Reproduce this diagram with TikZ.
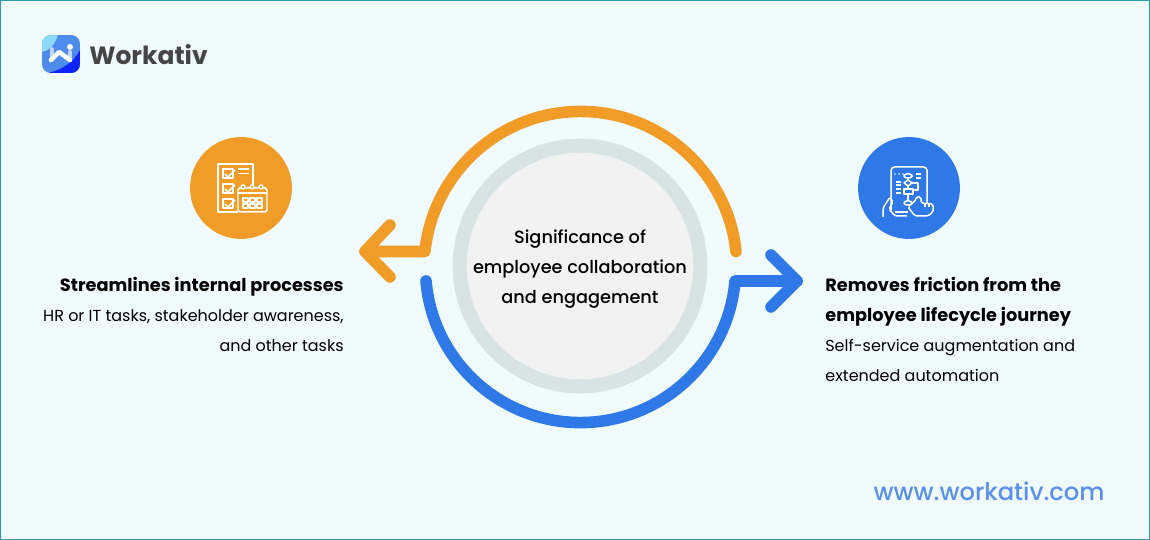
\documentclass[tikz,border=0pt]{standalone}
\usepackage{fontspec}
\setmainfont{Poppins}
\newfontfamily\medfont{Poppins Medium}
\usetikzlibrary{positioning}
\definecolor{pagebg}{HTML}{F0FBFF}
\definecolor{pageline}{HTML}{2A9DB5}
\definecolor{orangec}{HTML}{F09C26}
\definecolor{bluec}{HTML}{2F78E8}
\definecolor{ringc}{HTML}{D8E3E3}
\definecolor{corec}{HTML}{F2F2F2}
\definecolor{urlc}{HTML}{5A8FEE}
\definecolor{logoc}{HTML}{454545}
\tikzset{
	sweep/.style={line width=6.6pt, line cap=round, line join=round},
	badge/.style={circle, minimum size=58pt, inner sep=0pt},
	icon/.style={white, line width=0.85pt, line join=round},
	body/.style={font=\fontsize{9.1}{17}\selectfont, inner sep=0pt}
}
\begin{document}
\begin{tikzpicture}[x=0.02cm, y=0.02cm]
	% page: coordinates are reference pixels, y counted from the bottom
	\useasboundingbox (0,0) rectangle (1150,540);
	\fill[pagebg] (0,0) rectangle (1150,540);
	\draw[pageline, line width=1.7pt] (0,0) rectangle (1150,540);

	% logo
	\begin{scope}
		\clip[rounded corners=5pt] (42,467) rectangle (80,505);
		\fill[bluec!85!white] (42,467) rectangle (80,505);
		\fill[cyan!45!white] (42,505) -- (58,505) .. controls (54,494) and (50,490) .. (42,488) -- cycle;
		\fill[blue!70!bluec] (48,467) .. controls (62,470) and (74,478) .. (80,490) -- (80,467) -- cycle;
	\end{scope}
	\draw[white!70!bluec, line width=2.2pt, line cap=round] (52,480) -- (52,491);
	\draw[white!70!bluec, line width=2.2pt, line cap=round] (70,480) -- (70,488);
	\draw[white, line width=2.6pt, line cap=round, line join=round] (51,480) -- (59,488) -- (70,480);
	\fill[white] (70,493) circle (3);
	\node (logo) [anchor=west, text=logoc, inner sep=0pt, font=\fontsize{14.2}{14.2}\selectfont\bfseries] at (89,485) {Workativ};

	% centre rings
	\node (core) [circle, fill=corec, draw=ringc, line width=8pt, minimum size=137pt] at (580,274) {};
	\node (coretext) [align=center, inner sep=0pt, font=\fontsize{10.1}{17}\selectfont\medfont] at (580,271) {Significance of\\employee collaboration\\and engagement};

	% orange sweep, ends in the left arrow
	\coordinate (ostart) at (736,288.5);
	\coordinate (otip) at (365,288.5);
	\draw[sweep, orangec] (ostart) arc (6:174:156.4) -- (otip);
	\draw[sweep, orangec] (390,315) -- (otip) -- (390,263);

	% blue sweep, ends in the right arrow
	\coordinate (bstart) at (426,259);
	\coordinate (btip) at (797,259);
	\draw[sweep, bluec] (bstart) arc (185:355:155.1) -- (btip);
	\draw[sweep, bluec] (771,285) -- (btip) -- (771,233);

	% left badge
	\node (planbadge) [badge, fill=orangec] at (241,352) {};
	\draw[icon] (253,353) -- (253,376) -- (218,376) -- (218,328) -- (238,328);
	\foreach \y in {371,356,341} {
		\draw[icon] (223,\y-9) rectangle (233,\y);
		\draw[icon] (225,\y-5) -- (228,\y-8) -- (235,\y-1);
	}
	\draw[icon] (238,371) -- (249,371) (238,366.5) -- (249,366.5);
	\draw[icon, rounded corners=1pt] (238,328) rectangle (267,352);
	\draw[icon] (238,347) -- (267,347);
	\foreach \x in {243,252,261} {
		\draw[icon, fill=orangec] (\x,353) circle (2);
	}
	\foreach \x in {243,250,257} {
		\foreach \y in {342,336} {
			\draw[icon] (\x,\y-4) rectangle (\x+5,\y);
		}
	}

	% right badge
	\node (flowbadge) [badge, fill=bluec] at (909,352) {};
	\draw[icon, rounded corners=2pt] (891,330) -- (891,373) -- (927,373) -- (927,336);
	\foreach \x in {895,899,903} {
		\fill[white] (\x,366) circle (0.8);
	}
	\draw[icon, rounded corners=1.5pt] (904,362) rectangle (912,366);
	\draw[icon] (908,362) -- (908,360) (908,354) -- (908,351);
	\draw[icon] (908,360) -- (912,357) -- (908,354) -- (904,357) -- cycle;
	\draw[icon] (904,346) rectangle (913,351);
	\draw[icon] (912,357) -- (918,357) -- (918,350) -- (913,350);
	\draw[icon] (908,346) -- (908,339);
	\draw[icon, rounded corners=1.5pt] (904,335) rectangle (912,339);
	\foreach \y in {358,355,351,347} {
		\draw[icon] (896,\y) -- (901,\y);
	}
	\foreach \y in {366,362} {
		\draw[icon] (916,\y) -- (921,\y);
	}
	\draw[icon] (895,328) -- (908,328);
	\draw[icon, fill=bluec, rounded corners=1pt] (908,333) -- (916,340) -- (916,343) -- (921,343) -- (921,337) -- (933,336) -- (933,328) -- (928,324) -- (915,324) -- cycle;
	\draw[icon] (925,337) -- (925,333) (929,337) -- (929,333);
	\draw[icon, rounded corners=1pt] (883,323) -- (883,332) -- (890,343) -- (893,338) -- (889,331) -- (895,324) -- (907,324);

	% texts
	\node (lefttext) [body, anchor=north east, align=right] at (344,263) {{\fontsize{10.1}{17}\selectfont\bfseries Streamlines internal processes}\\HR or IT tasks, stakeholder awareness,\\and other tasks};
	\node (righttext) [body, anchor=north west, align=left] at (825,263) {{\fontsize{10.1}{17}\selectfont\bfseries Removes friction from the}\\{\fontsize{10.1}{17}\selectfont\bfseries employee lifecycle journey}\\Self-service augmentation and\\extended automation};
	\node (url) [anchor=east, text=urlc, inner sep=0pt, font=\fontsize{13.8}{13.8}\selectfont\medfont] at (1105,49) {www.workativ.com};
\end{tikzpicture}
\end{document}
